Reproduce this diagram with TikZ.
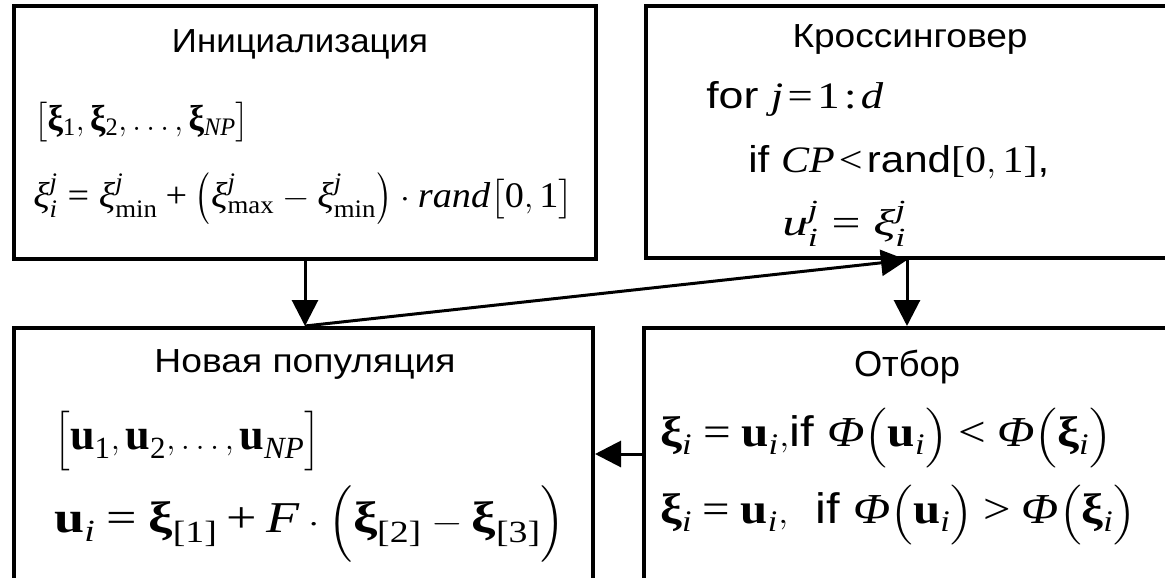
\documentclass[tikz,border=0pt]{standalone}
\usepackage{amsmath}
\usepackage[no-math]{fontspec}
\setmainfont{Liberation Sans}
\setsansfont{Liberation Sans}
\newfontfamily\tms[NFSSFamily=tmsf]{Liberation Serif}
\DeclareSymbolFont{operators}{TU}{tmsf}{m}{n}
\DeclareSymbolFont{tmsi}{TU}{tmsf}{m}{it}
\DeclareSymbolFont{tmsb}{TU}{tmsf}{bx}{n}
\DeclareMathAlphabet{\mathbf}{TU}{tmsf}{bx}{n}
\newcommand\tmsletter[1]{\DeclareMathSymbol{#1}{\mathalpha}{tmsi}{`#1}}
\tmsletter a \tmsletter d \tmsletter i \tmsletter j \tmsletter n
\tmsletter r \tmsletter u \tmsletter C \tmsletter F \tmsletter N \tmsletter P
\DeclareMathSymbol{<}{\mathrel}{operators}{`<}
\DeclareMathSymbol{>}{\mathrel}{operators}{`>}
\Umathchardef\vxi=0 \symtmsi "03BE
\Umathchardef\bxi=0 \symtmsb "03BE
\Umathchardef\vPhi=0 \symtmsi "03A6
\usepackage{graphicx}
\usetikzlibrary{arrows.meta}
\newlength\pxu
\setlength\pxu{0.75pt}
\newcommand\fitw[2]{\resizebox{#1\pxu}{\height}{#2}}
\newcommand\fsz[1]{\fontsize{#1}{#1}\selectfont}
\newcommand\dlo[2]{\mathopen{\vcenter{\hbox{\scalebox{1}[#2]{$\bigl#1$}}}}}
\newcommand\dlc[2]{\mathclose{\vcenter{\hbox{\scalebox{1}[#2]{$\bigr#1$}}}}}

\begin{document}
\begin{tikzpicture}[
      x=0.75pt, y=-0.75pt,
      blk/.style={draw, line width=3pt, inner sep=0pt},
      ttl/.style={inner sep=0pt, anchor=base},
      eq/.style={inner sep=0pt, anchor=west},
      eqb/.style={inner sep=0pt, anchor=base west},
      arr/.style={-{Triangle[length=19.5pt, width=19.5pt]}, line width=2.25pt},
    ]
    \useasboundingbox (0,0) rectangle (1165,578);
    \clip (0,0) rectangle (1165,578);

    % blocks
    \node[blk, minimum width=582\pxu, minimum height=253\pxu] (init) at (305,132.5) {};
    \node[blk, minimum width=522\pxu, minimum height=252\pxu] (cross) at (907,132) {};
    \node[blk, minimum width=579\pxu, minimum height=252\pxu] (newpop) at (303.5,454) {};
    \node[blk, minimum width=526\pxu, minimum height=252\pxu] (select) at (907,454) {};

    % connectors
    \draw[arr] (init.south) -- (init.south |- newpop.north);
    \draw[arr] (init.south |- newpop.north) -- (cross.south);
    \draw[arr] (cross.south) -- (select.north);
    \draw[arr] (select.west) -- (select.west -| newpop.east);

    % Initialization
    \node[ttl, font=\fsz{25pt}] (initT) at (300,53) {\fitw{256}{Инициализация}};
    \node[eq, font=\fsz{27pt}] (initA) at (34,122) {\fitw{215}{$\bigl[\bxi_1,\bxi_2,\ldots,\bxi_{NP}\bigr]$}};
    \node[eq, font=\fsz{27pt}] (initB) at (33,199) {\fitw{540}{$\vxi_i^j=\vxi_{\min}^j+\dlo({1.3}\vxi_{\max}^j-\vxi_{\min}^j\dlc){1.3}\cdot rand\bigl[0,1\bigr]$}};

    % Crossover
    \node[ttl, font=\fsz{25pt}] (crossT) at (910,48) {\fitw{235}{Кроссинговер}};
    \node[eqb, font=\fsz{28pt}] (crossA) at (706,108) {\fitw{177}{for $j\!=\!1\!:\!d$}};
    \node[eqb, font=\fsz{28pt}] (crossB) at (748,172) {\fitw{301}{if $CP\!<\!{}$rand$[0,1]$,}};
    \node[eqb, font=\fsz{28pt}] (crossC) at (782,235) {\fitw{124}{$u_i^j=\vxi_i^j$}};

    % New population
    \node[ttl, font=\fsz{25pt}] (newpopT) at (305,372) {\fitw{301}{Новая популяция}};
    \node[eq, font=\fsz{33pt}] (newpopA) at (54,441) {\fitw{266}{$\bigl[\mathbf{u}_1,\mathbf{u}_2,\ldots,\mathbf{u}_{NP}\bigr]$}};
    \node[eq, font=\fsz{33pt}] (newpopB) at (54,524) {\fitw{511}{$\mathbf{u}_i=\bxi_{[1]}+F\cdot\dlo({1.28}\bxi_{[2]}-\bxi_{[3]}\dlc){1.28}$}};

    % Selection
    \node[ttl, font=\fsz{27pt}] (selectT) at (907,376) {\fitw{106}{Отбор}};
    \node[eq, font=\fsz{32pt}] (selectA) at (660,438) {\fitw{452}{$\bxi_i=\mathbf{u}_i,$if $\vPhi\bigl(\mathbf{u}_i\bigr)<\vPhi\bigl(\bxi_i\bigr)$}};
    \node[eq, font=\fsz{32pt}] (selectB) at (660,515) {\fitw{476}{$\bxi_i=\mathbf{u}_i,$\ \ if $\vPhi\bigl(\mathbf{u}_i\bigr)>\vPhi\bigl(\bxi_i\bigr)$}};
  \end{tikzpicture}
\end{document}
